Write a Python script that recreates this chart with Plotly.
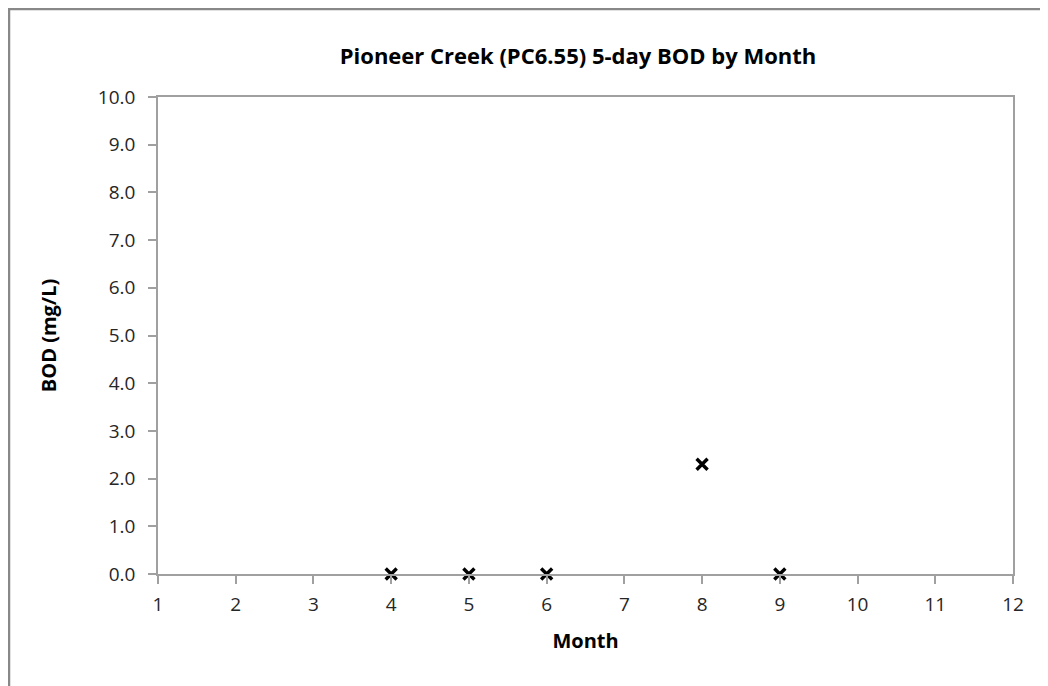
import plotly.graph_objects as go

months = [4, 5, 6, 8, 9]
bod = [0.0, 0.0, 0.0, 2.3, 0.0]

# the page adds an 8px body margin, so the figure is sized/offset accordingly
W, H = 1040, 678
L, R, T, B = 150, 35, 89, 112
pw, ph = W - L - R, H - T - B

fig = go.Figure()
fig.add_trace(go.Scatter(
    x=months, y=bod, mode="markers",
    marker=dict(symbol="x-thin-open", size=11, color="black",
                line=dict(color="black", width=3.4)),
    cliponaxis=False, showlegend=False,
))

axis_col = "#a0a0a0"
font_fam = "'Open Sans', Lato, sans-serif"

fig.update_layout(
    width=W, height=H,
    margin=dict(l=L, r=R, t=T, b=B),
    paper_bgcolor="white", plot_bgcolor="white",
    font=dict(family=font_fam, color="#262626", size=19),
    title=dict(text="<b>Pioneer Creek (PC6.55) 5-day BOD by Month</b>",
               x=570 / W, xref="container", xanchor="center",
               y=1 - 48 / H, yref="container", yanchor="middle",
               font=dict(size=22, color="#000000", family=font_fam)),
    xaxis=dict(range=[1, 12], tickvals=list(range(1, 13)),
               showline=True, linecolor=axis_col, linewidth=1.5, mirror=True,
               ticks="outside", ticklen=8, tickcolor=axis_col, tickwidth=1.5,
               showgrid=False, zeroline=False, ticklabelstandoff=4,
               tickfont=dict(size=19),
               title=dict(text="<b>Month</b>", font=dict(size=20, color="#000000"), standoff=18)),
    yaxis=dict(range=[0, 10], tickvals=[i for i in range(0, 11)], tickformat=".1f",
               showline=True, linecolor=axis_col, linewidth=1.5, mirror=True,
               ticks="outside", ticklen=8, tickcolor=axis_col, tickwidth=1.5,
               showgrid=False, zeroline=False, ticklabelstandoff=9,
               tickfont=dict(size=19),
               title=dict(text="<b>BOD (mg/L)</b>", font=dict(size=20, color="#000000"), standoff=36)),
)

# outer chart frame (cropped at right and bottom)
fig.add_shape(type="rect", xref="paper", yref="paper",
              x0=(1 - L) / pw, x1=(W + 20 - L) / pw,
              y0=(H - B - (H + 20)) / ph, y1=(H - B - 1) / ph,
              line=dict(color="#888888", width=2.5), fillcolor="rgba(0,0,0,0)", layer="below")

fig.write_html("out.html")
